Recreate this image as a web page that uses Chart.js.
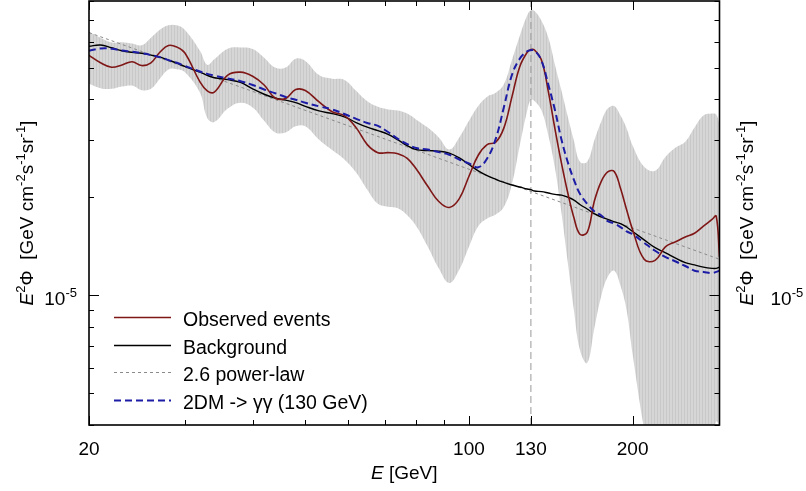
<!DOCTYPE html>
<html>
<head>
<meta charset="utf-8">
<script src="https://cdn.jsdelivr.net/npm/chart.js@4.4.1/dist/chart.umd.min.js"></script>
<style>
  html, body { margin: 0; padding: 0; background: #fff; }
</style>
</head>
<body>
<canvas id="spectrumChart" width="806" height="491"></canvas>
<script>
// photon energy grid, GeV
const energy = [20, 21, 22, 23, 24, 25, 26, 27, 28, 29,
    30, 32, 33, 34, 36, 38, 40, 42, 44, 46,
    48, 50, 53, 56, 59, 62, 65, 68, 71, 74,
    77, 80, 84, 88, 92, 96, 100, 104, 108, 112,
    116, 120, 124, 128, 130, 132, 136, 140, 144, 148,
    152, 156, 160, 165, 170, 175, 180, 185, 190, 195,
    200, 210, 220, 230, 240, 250, 260, 270, 280, 285,
    289];

// E^2 Phi in units of 1e-5 GeV cm^-2 s^-1 sr^-1
const observed = [5.45, 5.17, 5.01, 5.09, 5.21, 5.07, 5.17, 5.57, 5.84, 5.78,
    5.55, 4.52, 4.24, 4.20, 4.74, 4.84, 4.70, 4.42, 4.03, 4.02,
    4.28, 4.25, 3.92, 3.66, 3.56, 3.27, 2.90, 2.74, 2.74, 2.72,
    2.63, 2.44, 2.16, 1.94, 1.86, 1.98, 2.32, 2.69, 2.90, 2.95,
    3.27, 4.07, 5.03, 5.57, 5.68, 5.66, 5.26, 4.21, 3.23, 2.54,
    2.06, 1.73, 1.54, 1.56, 1.94, 2.23, 2.39, 2.40, 2.13, 1.83,
    1.59, 1.29, 1.28, 1.41, 1.46, 1.51, 1.55, 1.63, 1.71, 1.75,
    1.31];

const background = [5.81, 5.86, 5.75, 5.63, 5.57, 5.53, 5.46, 5.38, 5.27, 5.16,
    5.04, 4.84, 4.73, 4.65, 4.59, 4.50, 4.30, 4.14, 4.03, 3.97,
    3.90, 3.80, 3.68, 3.61, 3.53, 3.39, 3.28, 3.20, 3.12, 3.00,
    2.88, 2.80, 2.78, 2.77, 2.73, 2.64, 2.52, 2.41, 2.33, 2.27,
    2.22, 2.18, 2.15, 2.12, 2.11, 2.09, 2.08, 2.06, 2.04, 2.03,
    2.00, 1.96, 1.90, 1.84, 1.78, 1.74, 1.71, 1.68, 1.66, 1.62,
    1.57, 1.48, 1.40, 1.35, 1.30, 1.26, 1.24, 1.22, 1.21, 1.21,
    1.22];

const dmSignal = [5.63, 5.72, 5.71, 5.64, 5.59, 5.53, 5.46, 5.38, 5.27, 5.17,
    5.06, 4.86, 4.78, 4.72, 4.63, 4.54, 4.42, 4.28, 4.17, 4.06,
    3.98, 3.90, 3.80, 3.72, 3.60, 3.48, 3.38, 3.31, 3.17, 3.02,
    2.91, 2.83, 2.80, 2.75, 2.70, 2.61, 2.54, 2.47, 2.63, 3.02,
    3.79, 4.75, 5.32, 5.61, 5.65, 5.64, 5.24, 4.42, 3.69, 3.00,
    2.56, 2.26, 2.05, 1.91, 1.81, 1.76, 1.69, 1.66, 1.62, 1.57,
    1.54, 1.45, 1.37, 1.31, 1.27, 1.23, 1.19, 1.18, 1.17, 1.18,
    1.19];

const bandUpper = [6.44, 6.17, 5.97, 5.98, 5.92, 5.85, 6.17, 6.53, 6.74, 6.74,
    6.53, 5.63, 5.10, 5.30, 5.71, 5.76, 5.70, 5.36, 5.00, 5.00,
    5.32, 5.24, 4.74, 4.62, 4.58, 4.24, 3.94, 3.79, 3.72, 3.69,
    3.61, 3.46, 3.27, 3.05, 2.80, 3.05, 3.43, 3.81, 4.07, 4.18,
    4.45, 5.28, 6.25, 7.23, 7.49, 7.46, 6.95, 6.17, 5.08, 4.24,
    3.53, 2.98, 2.57, 2.57, 2.98, 3.40, 3.74, 3.81, 3.56, 3.25,
    2.88, 2.48, 2.41, 2.66, 2.84, 2.96, 3.27, 3.56, 3.61, 3.59,
    3.36];

const bandLower = [4.46, 4.32, 4.30, 4.37, 4.40, 4.26, 4.30, 4.62, 4.93, 4.94,
    4.84, 4.18, 3.50, 3.40, 3.74, 3.90, 3.77, 3.43, 3.16, 3.16,
    3.30, 3.30, 3.00, 2.79, 2.61, 2.38, 2.11, 1.91, 1.87, 1.85,
    1.76, 1.63, 1.41, 1.21, 1.09, 1.20, 1.41, 1.63, 1.72, 1.77,
    1.87, 2.20, 2.88, 3.69, 3.98, 3.95, 3.69, 3.09, 2.45, 1.79,
    1.26, 0.90, 0.68, 0.62, 0.79, 0.99, 1.14, 1.19, 1.07, 0.90,
    0.66, 0.39, 0.27, 0.25, 0.25, 0.25, 0.27, 0.30, 0.36, 0.41,
    0.40];

const powerLawE = [20, 289];
const powerLawFlux = [6.40, 1.29];

const lineEnergy = 130;
const UNIT = 1e-5;

const xRange = [20, 289];
const yRange = [4e-6, 8e-5];
const xTicks = [20, 30, 40, 50, 60, 70, 80, 90, 100, 130, 200];
const xLabelTicks = [20, 100, 130, 200];
const yTicks = [4e-6, 5e-6, 6e-6, 7e-6, 8e-6, 9e-6, 1e-5, 2e-5, 3e-5, 4e-5, 5e-5, 6e-5, 7e-5, 8e-5];
const yLabelTicks = [1e-5];

const FONT = '"Liberation Sans", Arial, Helvetica, sans-serif';

const points = (xs, ys, k = 1) => xs.map((x, i) => ({ x, y: ys[i] * k }));

const ctx = document.querySelector('#spectrumChart').getContext('2d');

// light grey band with faint vertical hatching
const stripe = document.createElement('canvas');
stripe.width = 3;
stripe.height = 1;
const sctx = stripe.getContext('2d');
sctx.fillStyle = '#d6d6d6';
sctx.fillRect(0, 0, 3, 1);
sctx.fillStyle = '#c8c8c8';
sctx.fillRect(0, 0, 1, 1);
const bandFill = ctx.createPattern(stripe, 'repeat');

// text with italic / superscript parts
const drawRich = (c, parts, x, y, align, size) => {
    const fontOf = (p) => (p[1] === 'i' ? 'italic ' : '') + (p[1] === 's' ? Math.round(size * 0.68) : size) + 'px ' + FONT;
    let total = 0;
    parts.forEach(p => { c.font = fontOf(p); total += c.measureText(p[0]).width; });
    let cx = align === 'center' ? x - total / 2 : align === 'right' ? x - total : x;
    c.textAlign = 'left';
    c.textBaseline = 'alphabetic';
    parts.forEach(p => {
        c.font = fontOf(p);
        c.fillText(p[0], cx, p[1] === 's' ? y - size * 0.42 : y);
        cx += c.measureText(p[0]).width;
    });
};

const yTitle = [['E', 'i'], ['2', 's'], ['\u03A6', ''], ['  [GeV cm', ''], ['-2', 's'], ['s', ''], ['-1', 's'], ['sr', ''], ['-1', 's'], [']', '']];

const framePlugin = {
    id: 'frame',
    afterDraw(chart) {
        const c = chart.ctx;
        const a = chart.chartArea;
        const sx = chart.scales.x;
        const sy = chart.scales.y;
        c.save();
        c.strokeStyle = '#000';
        c.lineWidth = 1;
        c.beginPath();
        xTicks.forEach(v => {
            const px = Math.round(sx.getPixelForValue(v)) + 0.5;
            const len = xLabelTicks.includes(v) ? 9 : 5;
            c.moveTo(px, a.bottom); c.lineTo(px, a.bottom - len);
            c.moveTo(px, a.top); c.lineTo(px, a.top + len);
        });
        yTicks.forEach(v => {
            const py = Math.round(sy.getPixelForValue(v)) + 0.5;
            const len = yLabelTicks.includes(v) ? 10 : 5;
            c.moveTo(a.left, py); c.lineTo(a.left + len, py);
            c.moveTo(a.right, py); c.lineTo(a.right - len, py);
        });
        c.stroke();
        c.lineWidth = 1.6;
        c.strokeRect(a.left, a.top, a.right - a.left, a.bottom - a.top);

        c.fillStyle = '#000';
        // y tick labels on both sides
        yLabelTicks.forEach(v => {
            const py = sy.getPixelForValue(v) + 10;
            const parts = [['10', ''], [String(Math.round(Math.log10(v))), 's']];
            drawRich(c, parts, a.left - 12, py, 'right', 19);
            drawRich(c, parts, a.right + 51, py, 'left', 19);
        });

        // axis titles
        drawRich(c, [['E', 'i'], [' [GeV]', '']], (a.left + a.right) / 2, 479, 'center', 19);
        const midY = (a.top + a.bottom) / 2;
        [33, 753].forEach(bx => {
            c.save();
            c.translate(bx, midY);
            c.rotate(-Math.PI / 2);
            drawRich(c, yTitle, 0, 0, 'center', 19);
            c.restore();
        });

        // legend inside the plot
        const items = chart.data.datasets.filter(d => d.label);
        items.forEach((d, i) => {
            const base = 326 + i * 27.7;
            const ly = Math.round(base - 9) + 0.5;
            c.save();
            c.strokeStyle = d.borderColor;
            c.lineWidth = d.borderWidth;
            c.setLineDash(d.borderDash || []);
            c.beginPath();
            c.moveTo(114, ly);
            c.lineTo(171, ly);
            c.stroke();
            c.restore();
            c.font = '19.5px ' + FONT;
            c.textAlign = 'left';
            c.textBaseline = 'alphabetic';
            c.fillText(d.label, 183, base);
        });
        c.restore();
    }
};

const yScale = (position, width) => ({
    type: 'logarithmic',
    position,
    min: yRange[0],
    max: yRange[1],
    grid: { display: false },
    border: { display: false },
    ticks: { display: false },
    afterBuildTicks: s => { s.ticks = yTicks.map(value => ({ value })); },
    afterFit: s => { s.width = width; }
});

new Chart(ctx, {
    type: 'line',
    data: {
        datasets: [{
            label: 'Observed events',
            data: points(energy, observed, UNIT),
            borderColor: '#7f1717',
            borderWidth: 1.6,
            tension: 0.4,
            order: 4
        }, {
            label: 'Background',
            data: points(energy, background, UNIT),
            borderColor: '#000000',
            borderWidth: 1.4,
            tension: 0.4,
            order: 5
        }, {
            label: '2.6 power-law',
            data: points(powerLawE, powerLawFlux, UNIT),
            borderColor: '#8a8a8a',
            borderWidth: 1,
            borderDash: [3, 3],
            order: 7
        }, {
            label: '2DM -> \u03B3\u03B3 (130 GeV)',
            data: points(energy, dmSignal, UNIT),
            borderColor: '#1c1ca6',
            borderWidth: 2,
            borderDash: [7, 4],
            tension: 0.4,
            order: 3
        }, {
            label: '',
            data: points(energy, bandUpper, UNIT),
            borderColor: 'rgba(0,0,0,0)',
            borderWidth: 0,
            backgroundColor: bandFill,
            fill: '+1',
            tension: 0.4,
            order: 10
        }, {
            label: '',
            data: points(energy, bandLower, UNIT),
            borderColor: 'rgba(0,0,0,0)',
            borderWidth: 0,
            fill: false,
            tension: 0.4,
            order: 10
        }, {
            label: '',
            data: [{ x: lineEnergy, y: yRange[0] }, { x: lineEnergy, y: yRange[1] }],
            borderColor: '#9a9a9a',
            borderWidth: 1,
            borderDash: [7, 4],
            order: 8
        }]
    },
    options: {
        responsive: false,
        animation: false,
        layout: { padding: { top: 1, left: 0, right: 0, bottom: 0 } },
        elements: { point: { radius: 0 } },
        plugins: {
            legend: { display: false },
            tooltip: { enabled: false }
        },
        scales: {
            x: {
                type: 'logarithmic',
                min: xRange[0],
                max: xRange[1],
                grid: { display: false },
                border: { display: false },
                afterBuildTicks: s => { s.ticks = xTicks.map(value => ({ value })); },
                afterFit: s => { s.height = 66; },
                ticks: {
                    autoSkip: false,
                    maxRotation: 0,
                    padding: 5,
                    color: '#000',
                    font: { family: FONT, size: 19 },
                    callback: v => xLabelTicks.includes(v) ? String(v) : ''
                }
            },
            y: yScale('left', 89),
            y2: yScale('right', 86.5)
        }
    },
    plugins: [framePlugin]
});
</script>
</body>
</html>
